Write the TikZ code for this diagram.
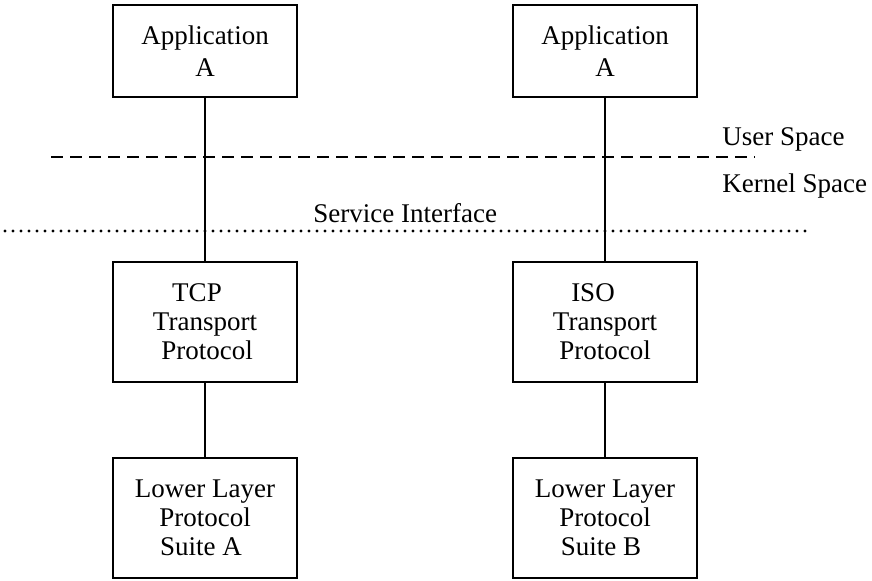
\documentclass[tikz,border=0pt]{standalone}
\usepackage{fontspec}
\setmainfont{Liberation Serif}
\begin{document}
\begin{tikzpicture}[x=0.5pt,y=-0.5pt,
  box/.style={draw, line width=0.75pt, inner sep=0pt, align=center,
    minimum width=92pt, font=\fontsize{13.5}{14.5}\selectfont},
  topbox/.style={box, minimum height=46pt},
  lowbox/.style={box, minimum height=60pt},
  lbl/.style={inner sep=0pt, anchor=west, font=\fontsize{13.5}{14.5}\selectfont},
  link/.style={line width=0.7pt},
  userline/.style={line width=1.2pt, dash pattern=on 6pt off 3.5pt},
  svcline/.style={line width=1.7pt, line cap=round, dash pattern=on 0pt off 4pt}]
\useasboundingbox (0,0) rectangle (872,581);
% boxes
\node[topbox] (appL) at (205,51) {Application\\[1.5pt]A};
\node[topbox] (appR) at (605,51) {Application\\[1.5pt]A};
\node[lowbox] (tcp) at (205,322) {TCP\hspace*{8pt}\\Transport\hspace*{8pt}\\\hspace*{2pt}Protocol};
\node[lowbox] (iso) at (605,322) {ISO\hspace*{12pt}\\Transport\hspace*{8pt}\\Protocol};
\node[lowbox] (lowL) at (205,518) {Lower Layer\\Protocol\\Suite A\hspace*{4pt}};
\node[lowbox] (lowR) at (605,518) {Lower Layer\\Protocol\\Suite B\hspace*{4pt}};
% boundary lines
\coordinate (d1) at (51,157);
\coordinate (d2) at (755,157);
\coordinate (s1) at (5,231);
\coordinate (s2) at (810,231);
\draw[userline] (d1) -- (d2);
\draw[svcline] (s1) -- (s2);
% labels
\node[lbl] (us) at (722,139) {User Space};
\node[lbl] (ks) at (722,186) {Kernel Space};
\node[lbl] (si) at (313,213) {Service Interface};
% connectors
\draw[link] (appL.south) -- (tcp.north);
\draw[link] (appR.south) -- (iso.north);
\draw[link] (tcp.south) -- (lowL.north);
\draw[link] (iso.south) -- (lowR.north);
\end{tikzpicture}
\end{document}
